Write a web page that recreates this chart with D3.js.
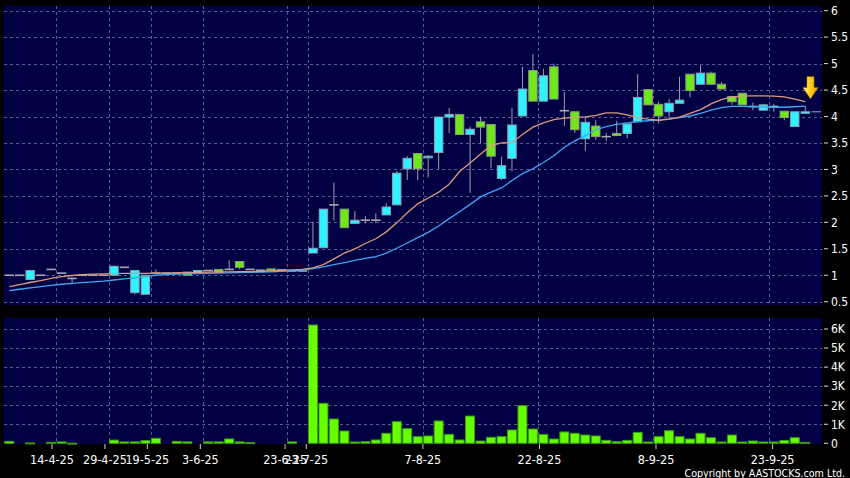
<!DOCTYPE html>
<html><head><meta charset="utf-8">
<script src="https://cdn.jsdelivr.net/npm/d3@7"></script>
<style>
html,body{margin:0;padding:0;background:#000;}
svg{display:block;}
text{font-family:"DejaVu Sans Condensed","DejaVu Sans",sans-serif;fill:#fff;}
</style></head><body>
<svg id="c" width="850" height="478"></svg>
<script>
// ---- data (slot index = trading day shown on chart) ----
const openP  = [1.00,1.00,0.92,1.00,1.11,1.04,0.94,1.00,1.00,1.00, 1.00,1.15,0.67,0.64,1.04,1.04,1.04,1.06,1.04,1.09, 1.11,1.11,1.26,1.11,1.07,1.12,1.10,1.08,1.08,1.42, 1.52,2.33,2.25,1.98,2.04,2.04,2.14,2.33,3.01,3.30, 3.22,3.32,3.99,4.04,3.66,3.90,3.85,2.83,3.21,4.01, 4.87,4.29,4.94,4.11,4.09,3.58,3.82,3.62,3.68,3.68, 3.90,4.51,4.23,4.09,4.25,4.80,4.61,4.82,4.61,4.38, 4.44,4.19,4.12,4.19,4.10,3.81,4.06];
const highP  = [1.00,1.00,1.09,1.00,1.11,1.04,0.94,1.00,1.00,1.00, 1.17,1.15,1.09,1.00,1.11,1.04,1.04,1.06,1.09,1.09, 1.11,1.28,1.26,1.11,1.10,1.12,1.10,1.08,1.08,2.01, 2.25,2.75,2.25,2.21,2.12,2.17,2.36,2.97,3.25,3.30, 3.27,3.99,4.16,4.04,3.81,4.00,3.85,3.24,4.16,4.94, 5.18,4.90,5.00,4.46,4.09,4.00,3.93,3.69,3.92,3.86, 4.80,4.51,4.28,4.33,4.75,4.80,4.97,4.85,4.65,4.38, 4.44,4.26,4.24,4.24,4.10,4.09,4.20];
const lowP   = [1.00,1.00,0.92,1.00,1.11,1.04,0.85,1.00,1.00,1.00, 1.00,1.15,0.64,0.64,1.04,1.04,1.04,1.00,1.04,1.09, 1.05,1.11,1.11,1.11,1.07,1.09,1.10,1.08,1.08,1.42, 1.52,2.03,1.90,1.98,1.98,1.99,2.14,2.33,2.80,2.80, 2.85,3.00,3.69,3.66,2.56,3.50,3.02,2.80,2.96,4.01, 4.29,4.29,4.33,3.82,3.69,3.35,3.56,3.54,3.64,3.59, 3.90,4.22,3.87,3.97,4.25,4.36,4.61,4.61,4.52,4.22, 4.22,4.12,4.12,4.09,3.93,3.81,4.06];
const closeP = [1.00,1.00,1.09,1.00,1.11,1.04,0.94,1.00,1.00,1.00, 1.17,1.15,1.09,1.00,1.04,1.04,1.04,1.00,1.09,1.09, 1.05,1.11,1.15,1.11,1.10,1.09,1.10,1.08,1.08,1.51, 2.25,2.33,1.90,2.04,2.04,2.04,2.29,2.93,3.21,3.01, 3.25,3.99,4.04,3.66,3.76,3.80,3.25,3.07,3.84,4.52, 4.29,4.77,4.33,4.11,3.75,3.89,3.62,3.62,3.64,3.86, 4.36,4.22,4.01,4.25,4.31,4.49,4.82,4.61,4.52,4.28, 4.22,4.19,4.22,4.19,3.98,4.09,4.09];
const volume = [100,0,20,0,50,75,10,0,0,0, 170,75,75,140,260,0,100,75,0,75, 75,230,75,35,0,0,0,75,0,6210, 2100,1275,645,70,85,175,525,1135,770,350, 385,1170,470,175,1430,120,315,350,700,1975, 750,470,225,595,525,435,385,155,85,155, 575,70,350,660,350,225,525,295,70,435, 70,120,70,70,150,295,50];
const maFast = [0.785,0.824,0.863,0.90,0.94,0.975,0.995,1.01,1.02,1.025, 1.03,1.035,1.035,1.035,1.04,1.04,1.045,1.05,1.055,1.06, 1.062,1.065,1.068,1.07,1.075,1.08,1.09,1.10,1.11,1.14, 1.20,1.31,1.42,1.50,1.60,1.69,1.82,1.99,2.18,2.35, 2.46,2.57,2.72,2.96,3.12,3.29,3.45,3.50,3.505,3.66, 3.80,3.88,3.94,3.97,3.985,3.995,4.02,4.07,4.07,4.03, 3.98,3.95,3.93,3.95,3.99,4.06,4.13,4.24,4.32,4.37, 4.385,4.39,4.39,4.385,4.37,4.33,4.28];
const maSlow = [0.71,0.735,0.76,0.785,0.81,0.83,0.845,0.86,0.875,0.89, 0.91,0.93,0.95,0.98,1.00,1.01,1.02,1.025,1.03,1.035, 1.04,1.045,1.05,1.055,1.06,1.065,1.075,1.085,1.095,1.125, 1.16,1.20,1.24,1.28,1.32,1.35,1.42,1.51,1.61,1.71, 1.81,1.93,2.07,2.20,2.34,2.48,2.57,2.65,2.79,2.92, 3.01,3.13,3.26,3.42,3.54,3.64,3.75,3.81,3.85,3.88, 3.905,3.92,3.93,3.95,3.98,4.01,4.06,4.12,4.17,4.19, 4.19,4.185,4.18,4.175,4.175,4.185,4.195];
const dateLabels = ["14-4-25","29-4-25","19-5-25","3-6-25","23-6-25","23-7-25","7-8-25","22-8-25","8-9-25","23-9-25"];
const dateSlots  = [5,10,14,19,27,29,40,51,62,73];
const priceTicks = [0.5,1,1.5,2,2.5,3,3.5,4,4.5,5,5.5,6];
const volTicks   = [0,1000,2000,3000,4000,5000,6000];
const volTickLabels = ["0","1K","2K","3K","4K","5K","6K"];

// ---- layout ----
const svg = d3.select("#c");
const L = 4, R = 822;
const pTop = 6, pBot = 305, vTop = 318, vBot = 444;
const n = closeP.length;
const x = d3.scaleLinear().domain([-0.5, 77.6]).range([L, R]);
const y = d3.scaleLinear().domain([0.5, 6]).range([301.7, 10.7]);
const yv = d3.scaleLinear().domain([0, 6000]).range([443.3, 329]);

const bg = "#000042", gridC = "#5a5a92";
svg.append("rect").attr("width",850).attr("height",478).attr("fill","#000");
svg.append("rect").attr("x",L).attr("y",pTop).attr("width",R-L).attr("height",pBot-pTop).attr("fill",bg);
svg.append("rect").attr("x",L).attr("y",vTop).attr("width",R-L).attr("height",vBot-vTop).attr("fill",bg);

const defs = svg.append("defs");
defs.append("clipPath").attr("id","cp").append("rect").attr("x",L).attr("y",pTop).attr("width",R-L).attr("height",pBot-pTop);
const g = defs.append("linearGradient").attr("id","arrowG").attr("x1","0").attr("x2","1").attr("y1","0").attr("y2","0");
g.append("stop").attr("offset","0").attr("stop-color","#fff6b0");
g.append("stop").attr("offset","0.45").attr("stop-color","#ffd21a");
g.append("stop").attr("offset","1").attr("stop-color","#e89a00");

// grid
const grid = svg.append("g").attr("stroke",gridC).attr("stroke-dasharray","3,3").attr("stroke-width",1);
priceTicks.forEach(t => grid.append("line").attr("x1",L).attr("x2",R).attr("y1",Math.round(y(t))+0.5).attr("y2",Math.round(y(t))+0.5));
volTicks.slice(1).forEach(t => grid.append("line").attr("x1",L).attr("x2",R).attr("y1",Math.round(yv(t))+0.5).attr("y2",Math.round(yv(t))+0.5));
dateSlots.forEach(s => {
  const gx = Math.round(x(s-0.5))+0.5;
  grid.append("line").attr("x1",gx).attr("x2",gx).attr("y1",pTop).attr("y2",pBot);
  grid.append("line").attr("x1",gx).attr("x2",gx).attr("y1",vTop).attr("y2",vBot);
});

// candles
const bodyW = 8.4;
const cg = svg.append("g").attr("clip-path","url(#cp)");
d3.range(n).forEach(i => {
  const cx = x(i), o = openP[i], c = closeP[i], h = highP[i], l = lowP[i];
  const top = y(Math.max(o,c)), bot = y(Math.min(o,c));
  if (h > Math.max(o,c)) cg.append("line").attr("x1",cx).attr("x2",cx).attr("y1",y(h)).attr("y2",top).attr("stroke","#a0a0a8").attr("stroke-width",1);
  if (l < Math.min(o,c)) cg.append("line").attr("x1",cx).attr("x2",cx).attr("y1",bot).attr("y2",y(l)).attr("stroke","#a0a0a8").attr("stroke-width",1);
  if (o === c) {
    cg.append("line").attr("x1",cx-bodyW/2-0.5).attr("x2",cx+bodyW/2+0.5).attr("y1",top).attr("y2",top).attr("stroke","#a8a8b0").attr("stroke-width",1.6);
  } else {
    const up = c > o;
    cg.append("rect").attr("x",cx-bodyW/2).attr("y",top).attr("width",bodyW).attr("height",Math.max(bot-top,1.5))
      .attr("fill", up ? "#2ef2ff" : "#6ee81a").attr("stroke", up ? "#8aa2b8" : "#8c9a80").attr("stroke-width",1);
  }
});

// moving averages
const line = d3.line().x((d,i)=>x(i)).y(d=>y(d));
cg.append("path").datum(maSlow).attr("d",line).attr("fill","none").attr("stroke","#3ea6f2").attr("stroke-width",1.3);
cg.append("path").datum(maFast).attr("d",line).attr("fill","none").attr("stroke","#de9a7c").attr("stroke-width",1.3);

// last price line
svg.append("line").attr("x1",x(n-0.5)+1).attr("x2",x(n+0.5)).attr("y1",y(closeP[n-1])).attr("y2",y(closeP[n-1])).attr("stroke","#8090b8").attr("stroke-width",1.2);

// arrow at last bar
(function(){
  const ax = x(n-0.5), tip = y(maFast[n-1]) - 3;
  const p = d3.path();
  p.moveTo(ax-3.5, tip-22); p.lineTo(ax+3.5, tip-22); p.lineTo(ax+3.5, tip-11);
  p.lineTo(ax+7.5, tip-11); p.lineTo(ax, tip); p.lineTo(ax-7.5, tip-11); p.lineTo(ax-3.5, tip-11); p.closePath();
  svg.append("path").attr("d",p.toString()).attr("fill","url(#arrowG)").attr("stroke","#c88a00").attr("stroke-width",0.6);
})();

// volume bars
const vg = svg.append("g");
d3.range(n).forEach(i => {
  if (volume[i] <= 0) return;
  const top = yv(volume[i]);
  vg.append("rect").attr("x",x(i)-4.5).attr("y",top).attr("width",9).attr("height",Math.max(yv(0)-top,1))
    .attr("fill","#66ff00").attr("stroke","#3a9a10").attr("stroke-width",1);
});

// right axes
const ax = svg.append("g");
priceTicks.forEach(t => {
  ax.append("line").attr("x1",824).attr("x2",828).attr("y1",y(t)).attr("y2",y(t)).attr("stroke","#ddd");
  ax.append("text").attr("x",831).attr("y",y(t)).attr("dy","0.36em").attr("font-size",12).text(t);
});
volTicks.forEach((t,i) => {
  ax.append("line").attr("x1",824).attr("x2",828).attr("y1",yv(t)).attr("y2",yv(t)).attr("stroke","#ddd");
  ax.append("text").attr("x",831).attr("y",yv(t)).attr("dy","0.36em").attr("font-size",12).text(volTickLabels[i]);
});

// date axis (labels drift slightly relative to grid, as in source)
dateSlots.forEach((s,i) => {
  const gx = x(s-0.5);
  const tx = gx*1.0118 - 5.07;
  ax.append("line").attr("x1",tx).attr("x2",tx).attr("y1",444).attr("y2",449).attr("stroke","#ccc");
  ax.append("text").attr("x",tx).attr("y",464).attr("text-anchor","middle").attr("font-size",12.5).text(dateLabels[i]);
});
ax.append("text").attr("x",845).attr("y",477).attr("text-anchor","end").attr("font-size",10.6).text("Copyright by AASTOCKS.com Ltd.");
</script>
</body></html>
